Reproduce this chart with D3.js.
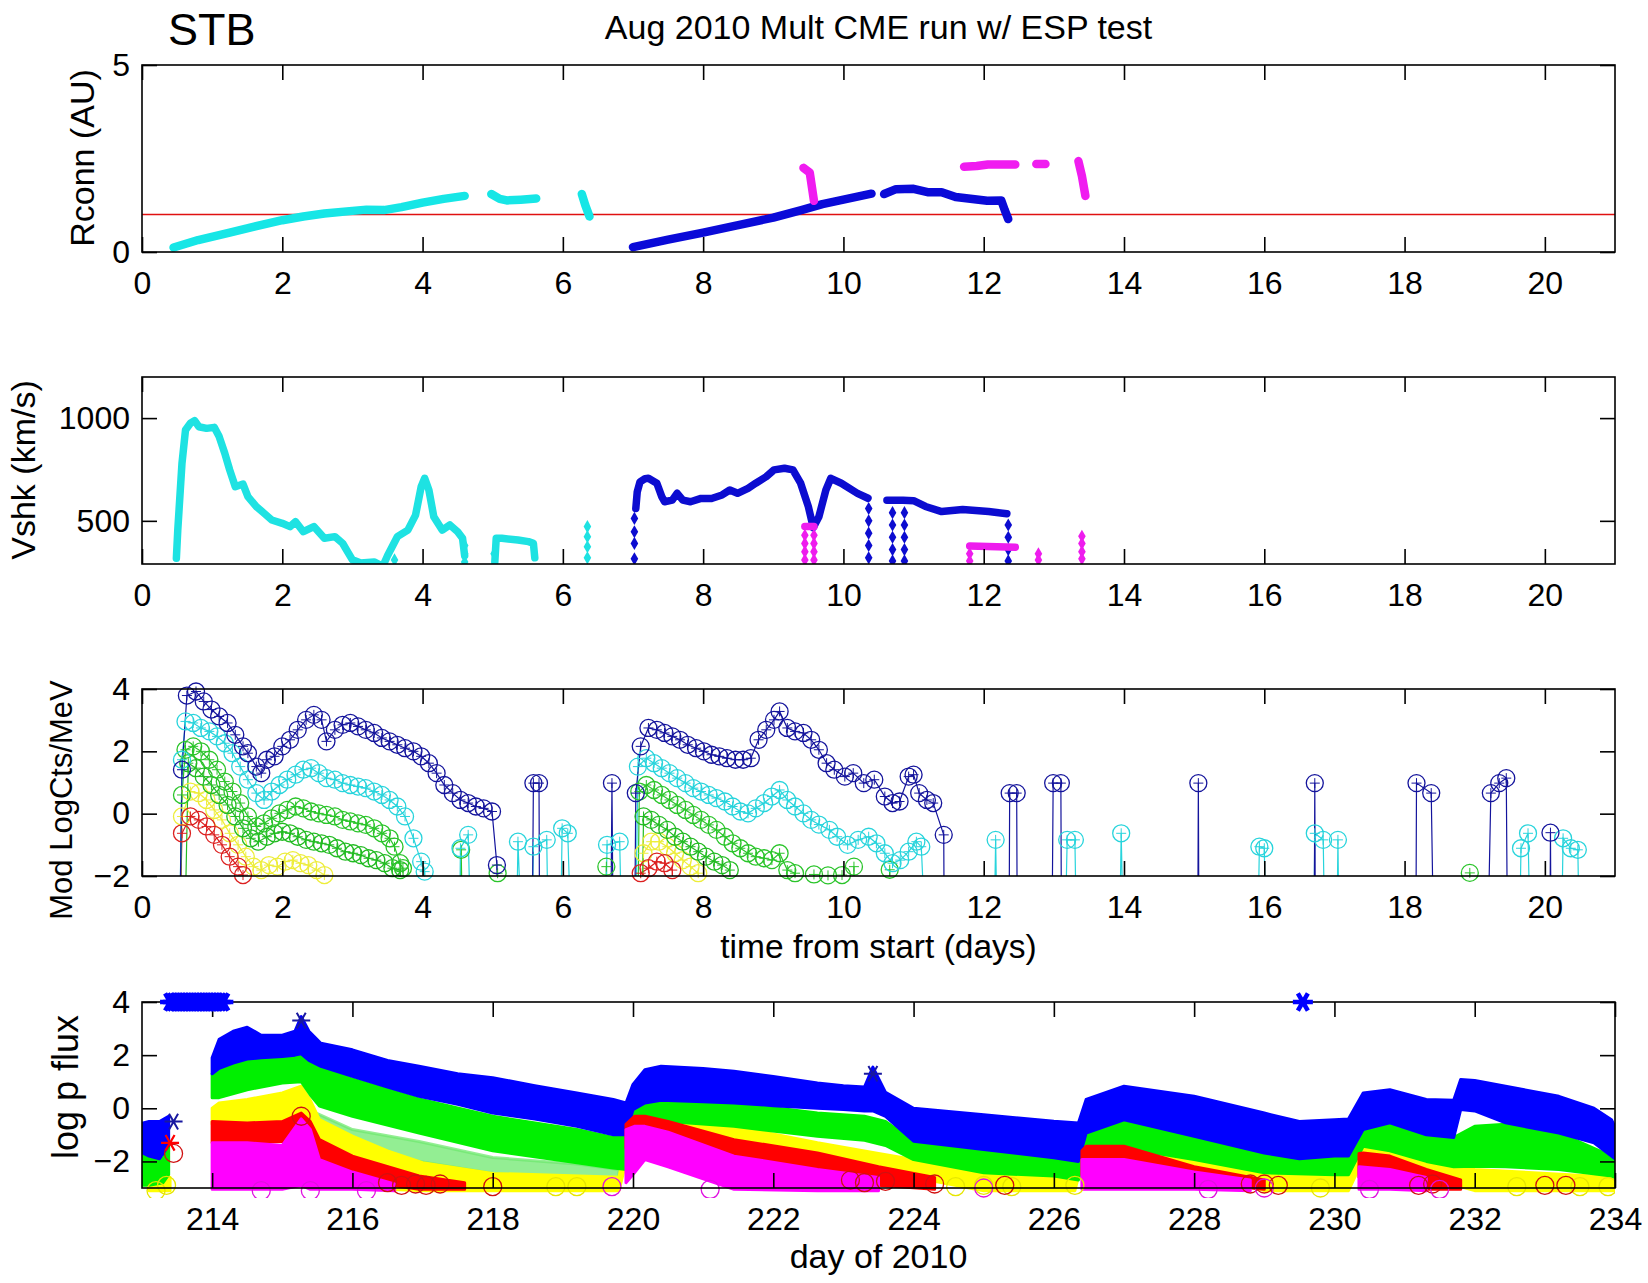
<!DOCTYPE html>
<html>
<head>
<meta charset="utf-8">
<script src="https://cdn.jsdelivr.net/npm/d3@7"></script>
<style>
  body { margin: 0; background: #fff; }
  svg { display: block; font-family: "Liberation Sans", Arial, sans-serif; }
  .tick text { font-size: 32px; fill: #000; font-family: "Liberation Sans", Arial, sans-serif; }
  .tick line { stroke: #000; stroke-width: 1.6; }
</style>
</head>
<body>
<svg id="chart" width="1648" height="1283"></svg>
<script>
// ---- panel 1 : Rconn (AU) vs days from start, segments of [day, AU]
var rconnCyan = [
  [[0.45,0.12],[0.8,0.32],[1.25,0.52],[1.6,0.68],[2.0,0.85],[2.3,0.95],[2.6,1.03],[3.0,1.1],[3.2,1.13],[3.45,1.12],[3.7,1.2],[4.0,1.32],[4.3,1.42],[4.6,1.5]],
  [[4.98,1.55],[5.1,1.42],[5.2,1.38],[5.4,1.4],[5.62,1.43]],
  [[6.27,1.55],[6.32,1.25],[6.38,0.95]]
];
var rconnBlue = [
  [[7.0,0.13],[7.5,0.33],[8.0,0.52],[8.5,0.72],[9.0,0.92],[9.4,1.12],[9.7,1.28],[10.0,1.4],[10.4,1.56]],
  [[10.58,1.55],[10.75,1.68],[11.0,1.69],[11.2,1.6],[11.4,1.6],[11.6,1.47],[12.05,1.37],[12.25,1.38],[12.3,1.12],[12.35,0.88]]
];
var rconnMagenta = [
  [[9.43,2.25],[9.52,2.12],[9.58,1.37]],
  [[11.72,2.28],[11.9,2.3],[12.06,2.34],[12.45,2.34]],
  [[12.75,2.35],[12.88,2.35]],
  [[13.35,2.43],[13.4,2.03],[13.45,1.5]]
];
var rconnRef = 1;

// ---- panel 2 : Vshk (km/s)
var vshkCyan = [
  [[0.49,318],[0.51,455],[0.57,780],[0.62,942],[0.69,975],[0.75,988],[0.81,958],[0.92,950],[1.03,955],[1.10,910],[1.18,829],[1.25,748],[1.33,666],[1.44,679],[1.51,618],[1.63,569],[1.74,537],[1.85,504],[2.0,488],[2.11,472],[2.19,496],[2.30,447],[2.45,472],[2.60,415],[2.75,423],[2.86,391],[2.93,350],[3.0,310],[3.12,295],[3.31,300],[3.4,285]],
  [[3.46,300],[3.5,330],[3.64,423],[3.79,455],[3.90,528],[3.98,666],[4.03,707],[4.09,650],[4.16,520],[4.28,455],[4.39,480],[4.5,447],[4.57,415],[4.6,330]],
  [[5.03,300],[5.05,415],[5.13,415],[5.36,407],[5.51,399],[5.58,391],[5.6,320]]
];
var vshkCyanDots = [[3.6,310],[4.6,380],[4.6,340],[4.6,300],[5.02,340],[6.35,472],[6.35,423],[6.35,374],[6.35,320]];
var vshkBlue = [
  [[7.04,560],[7.06,640],[7.1,690],[7.17,705],[7.22,707],[7.34,683],[7.41,618],[7.45,593],[7.56,601],[7.63,634],[7.71,601],[7.82,593],[7.97,609],[8.12,609],[8.27,626],[8.38,650],[8.49,634],[8.64,658],[8.75,683],[8.90,715],[9.01,748],[9.16,756],[9.28,748],[9.39,683],[9.5,569],[9.57,467],[9.65,520],[9.75,650],[9.82,707],[9.97,683],[10.2,634],[10.35,610]],
  [[10.62,600],[10.85,600],[11.0,598],[11.17,570],[11.4,545],[11.7,555],[12.07,545],[12.33,535]]
];
var vshkBlueDots = [[7.02,512],[7.02,447],[7.02,390],[7.02,315],[10.36,560],[10.36,500],[10.36,440],[10.36,380],[10.36,320],
  [10.7,540],[10.7,480],[10.7,420],[10.7,360],[10.7,305],[10.87,540],[10.87,480],[10.87,420],[10.87,360],[10.87,305],
  [12.35,480],[12.35,420],[12.35,360],[12.35,305]];
var vshkMagenta = [
  [[9.45,472],[9.58,472]],
  [[11.8,378],[12.45,372]]
];
var vshkMagentaDots = [[9.45,430],[9.45,390],[9.45,350],[9.45,310],[9.58,430],[9.58,390],[9.58,350],[9.58,310],
  [11.8,340],[11.8,305],[12.78,340],[12.78,310],[13.4,425],[13.4,390],[13.4,350],[13.4,315]];

// ---- panel 3 : Mod LogCts/MeV, -5 = below the axis
var modNavy = [[0.53,-5],[0.57,1.41],[0.64,3.79],[0.77,3.92],[0.88,3.6],[0.99,3.34],[1.1,3.12],[1.22,2.91],[1.33,2.53],[1.44,2.16],[1.51,1.94],[1.63,1.51],[1.70,1.30],[1.78,1.73],[1.89,1.84],[2.0,2.16],[2.11,2.37],[2.22,2.69],[2.34,3.01],[2.45,3.17],[2.56,3.01],[2.63,2.32],[2.75,2.69],[2.86,2.85],[2.97,2.91],[3.08,2.8],[3.19,2.69],[3.31,2.59],[3.42,2.43],[3.53,2.32],[3.64,2.21],[3.75,2.10],[3.87,2.0],[3.98,1.84],[4.09,1.62],[4.2,1.3],[4.31,0.92],[4.43,0.66],[4.54,0.44],[4.65,0.34],[4.76,0.23],[4.87,0.17],[4.99,0.07],[5.06,-1.65],[5.08,-5],
  [5.56,-5],[5.58,0.98],[5.66,0.98],[5.67,-5],
  [6.68,-5],[6.7,0.98],[6.72,-5],
  [7.02,-5],[7.04,0.66],[7.11,2.16],[7.22,2.75],[7.34,2.69],[7.45,2.59],[7.56,2.48],[7.67,2.37],[7.78,2.21],[7.90,2.10],[8.01,2.0],[8.12,1.89],[8.23,1.84],[8.34,1.78],[8.46,1.73],[8.57,1.73],[8.68,1.78],[8.79,2.37],[8.90,2.69],[9.01,3.01],[9.09,3.28],[9.2,2.75],[9.31,2.64],[9.43,2.59],[9.54,2.37],[9.65,2.05],[9.76,1.62],[9.87,1.41],[10.02,1.19],[10.14,1.3],[10.29,0.98],[10.44,1.09],[10.59,0.55],[10.7,0.34],[10.8,0.39],[10.93,1.19],[11.0,1.25],[11.08,0.66],[11.19,0.44],[11.28,0.34],[11.43,-0.68],[11.44,-5],
  [12.36,-5],[12.37,0.66],[12.47,0.66],[12.48,-5],
  [12.97,-5],[12.99,0.98],[13.1,0.98],[13.11,-5],
  [15.05,-5],[15.06,0.98],[15.07,-5],
  [16.71,-5],[16.72,0.98],[16.73,-5],
  [18.16,-5],[18.17,0.98],[18.38,0.66],[18.42,-5],
  [19.18,-5],[19.23,0.66],[19.35,0.98],[19.45,1.14],[19.47,-5],
  [20.07,-5],[20.08,-0.61],[20.09,-5]];
var modCyan = [[0.53,-5],[0.57,1.73],[0.62,2.96],[0.73,2.91],[0.84,2.75],[0.96,2.64],[1.07,2.48],[1.18,2.26],[1.29,1.94],[1.40,1.51],[1.51,1.09],[1.63,0.66],[1.74,0.44],[1.85,0.71],[1.96,0.92],[2.07,1.09],[2.19,1.25],[2.30,1.41],[2.41,1.46],[2.52,1.30],[2.63,1.14],[2.75,1.09],[2.86,0.98],[2.97,0.92],[3.08,0.87],[3.19,0.82],[3.31,0.71],[3.42,0.60],[3.53,0.44],[3.64,0.23],[3.75,-0.09],[3.87,-0.79],[3.98,-1.54],[4.03,-1.86],[4.05,-5],
  [4.52,-5],[4.54,-1.11],[4.65,-0.68],[4.7,-5],
  [5.33,-5],[5.36,-0.9],[5.43,-5],[5.55,-5],[5.58,-1.06],[5.77,-0.84],[5.8,-5],[5.96,-5],[5.99,-0.47],[6.07,-0.63],[6.13,-5],
  [6.6,-5],[6.63,-1.0],[6.81,-0.9],[6.85,-5],
  [7.03,-5],[7.07,1.51],[7.19,1.78],[7.3,1.62],[7.41,1.46],[7.52,1.30],[7.63,1.14],[7.75,0.98],[7.86,0.82],[7.97,0.71],[8.08,0.60],[8.19,0.50],[8.31,0.39],[8.42,0.23],[8.53,0.07],[8.64,0.01],[8.75,0.17],[8.87,0.34],[8.98,0.55],[9.09,0.76],[9.2,0.44],[9.31,0.23],[9.43,0.01],[9.54,-0.2],[9.65,-0.35],[9.8,-0.52],[9.91,-0.74],[10.06,-1.0],[10.21,-0.84],[10.36,-0.74],[10.47,-0.95],[10.59,-1.27],[10.7,-1.59],[10.81,-1.49],[10.93,-1.22],[11.04,-0.9],[11.11,-1.06],[11.19,-5],
  [12.14,-5],[12.17,-0.84],[12.2,-5],
  [13.15,-5],[13.19,-0.84],[13.3,-0.84],[13.33,-5],
  [13.93,-5],[13.96,-0.63],[14.0,-5],
  [15.9,-5],[15.93,-1.06],[16.0,-1.11],[16.03,-5],
  [16.7,-5],[16.72,-0.63],[16.84,-0.84],[16.87,-5],
  [17.03,-5],[17.05,-0.84],[17.07,-5],
  [19.63,-5],[19.66,-1.11],[19.76,-0.63],[19.8,-5],
  [20.23,-5],[20.26,-0.79],[20.37,-1.11],[20.47,-1.16],[20.5,-5]];
var modGreenA = [[0.53,-5],[0.57,0.6],[0.62,2.05],[0.73,2.16],[0.84,2.0],[0.96,1.73],[1.07,1.41],[1.18,1.03],[1.29,0.71],[1.40,0.34],[1.51,-0.09],[1.63,-0.41],[1.74,-0.31],[1.85,-0.15],[1.96,0.01],[2.07,0.12],[2.19,0.23],[2.30,0.17],[2.41,0.07],[2.52,0.01],[2.63,-0.04],[2.75,-0.09],[2.86,-0.2],[2.97,-0.25],[3.08,-0.31],[3.19,-0.36],[3.31,-0.47],[3.42,-0.63],[3.53,-0.79],[3.6,-1.06],[3.68,-1.59],[3.72,-1.75],[3.75,-5],
  [4.52,-5],[4.55,-1.16],[4.58,-5],
  [5.05,-5],[5.07,-1.91],[5.09,-5],
  [6.6,-5],[6.62,-1.7],[6.65,-5],
  [7.06,-5],[7.09,0.71],[7.19,0.92],[7.3,0.76],[7.41,0.6],[7.52,0.44],[7.63,0.28],[7.75,0.12],[7.86,-0.04],[7.97,-0.2],[8.08,-0.36],[8.19,-0.52],[8.31,-0.74],[8.42,-0.95],[8.53,-1.11],[8.64,-1.27],[8.75,-1.38],[8.87,-1.43],[8.98,-1.49],[9.09,-1.27],[9.2,-1.81],[9.31,-1.91],[9.33,-5],
  [9.56,-5],[9.58,-1.95],[9.6,-5],[9.76,-5],[9.78,-1.98],[9.8,-5],[9.96,-5],[9.98,-1.97],[10.0,-5],
  [10.13,-5],[10.15,-1.7],[10.17,-5],[10.64,-5],[10.66,-1.8],[10.68,-5],[18.91,-5],[18.93,-1.9],[18.95,-5]];
var modGreenB = [[0.6,-5],[0.66,1.62],[0.77,1.46],[0.88,1.19],[0.99,0.92],[1.10,0.6],[1.22,0.28],[1.33,-0.09],[1.44,-0.47],[1.55,-0.79],[1.66,-0.9],[1.78,-0.74],[1.89,-0.63],[2.0,-0.58],[2.11,-0.63],[2.22,-0.74],[2.34,-0.84],[2.45,-0.9],[2.56,-0.95],[2.67,-1.0],[2.78,-1.11],[2.90,-1.22],[3.01,-1.27],[3.12,-1.33],[3.23,-1.43],[3.34,-1.49],[3.46,-1.59],[3.57,-1.75],[3.68,-1.81],[3.72,-5],
  [7.12,-5],[7.15,-0.09],[7.26,-0.2],[7.37,-0.36],[7.49,-0.52],[7.6,-0.74],[7.71,-0.9],[7.82,-1.06],[7.93,-1.22],[8.04,-1.38],[8.16,-1.54],[8.27,-1.65],[8.38,-1.81],[8.45,-5]];
var modYellow = [[0.53,-5],[0.57,-0.09],[0.69,0.71],[0.81,0.66],[0.92,0.44],[1.03,0.12],[1.14,-0.2],[1.25,-0.63],[1.37,-1.0],[1.48,-1.38],[1.59,-1.7],[1.70,-1.81],[1.81,-1.65],[1.93,-1.7],[2.04,-1.54],[2.15,-1.49],[2.26,-1.59],[2.37,-1.65],[2.49,-1.81],[2.6,-1.97],[2.65,-5],
  [7.12,-5],[7.15,-1.27],[7.26,-0.9],[7.37,-0.9],[7.49,-1.06],[7.6,-1.27],[7.71,-1.49],[7.82,-1.7],[7.93,-1.91],[7.98,-5]];
var modRed = [[0.53,-5],[0.57,-0.63],[0.69,-0.09],[0.81,-0.2],[0.92,-0.41],[1.03,-0.68],[1.14,-1.0],[1.25,-1.38],[1.37,-1.7],[1.44,-1.97],[1.47,-5],
  [7.08,-5],[7.11,-1.91],[7.22,-1.75],[7.34,-1.54],[7.45,-1.59],[7.56,-1.81],[7.6,-5]];

// ---- panel 4 : log p flux bands, [day of 2010, top, bottom]
var fluxBlue = [
  [[212.95,-0.6,-1.6],[213.1,-0.5,-1.8],[213.25,-0.5,-1.9],[213.38,-0.3,-1.4]],
  [[214.0,1.9,1.3],[214.1,2.6,1.5],[214.3,2.9,1.7],[214.5,3.05,1.85],[214.7,2.75,1.9],[215.0,2.75,1.95],[215.18,2.9,2.0],[215.27,3.45,2.05],[215.38,2.9,1.8],[215.55,2.45,1.58],[216.0,2.2,1.2],[216.5,1.8,0.8],[216.95,1.58,0.45],[217.5,1.3,0.15],[218.0,1.15,-0.18],[218.6,0.85,-0.4],[219.2,0.58,-0.68],[219.72,0.33,-1.0],[219.9,0.2,-1.0],[220.0,0.9,-0.05],[220.17,1.45,0.2],[220.4,1.58,0.3],[221.0,1.5,0.25],[221.44,1.39,0.2],[222.0,1.2,0.1],[222.63,0.95,0.0],[223.0,0.85,-0.05],[223.3,0.8,-0.1],[223.42,1.55,-0.1],[223.6,0.6,-0.3],[224.0,0.0,-1.24],[225.0,-0.24,-1.55],[226.0,-0.49,-1.86],[226.35,-0.55,-2.0],[226.46,0.33,-0.93],[227.0,0.83,-0.43],[228.0,0.45,-1.05],[229.0,-0.18,-1.68],[229.5,-0.5,-1.9],[230.0,-0.43,-1.8],[230.2,-0.4,-1.8],[230.41,0.58,-0.8],[230.79,0.7,-0.55],[231.31,0.33,-1.0],[231.7,0.3,-1.1],[231.8,1.08,-0.05],[232.0,1.05,-0.1],[232.44,0.83,-0.55],[233.2,0.45,-0.93],[233.7,0.0,-1.3],[233.95,-0.43,-1.8],[234.0,-0.7,-1.9]]
];
var fluxGreen = [
  [[212.95,-1.6,-2.9],[213.1,-1.8,-2.9],[213.3,-1.9,-2.8],[213.38,-1.4,-2.5]],
  [[214.0,1.3,0.4],[214.1,1.5,0.4],[214.5,1.85,0.7],[215.0,1.95,0.95],[215.27,2.05,1.0],[215.4,1.8,0.5],[215.53,1.58,0.08],[216.0,1.1,-0.3],[216.95,0.35,-0.93],[218.0,-0.3,-1.6],[219.2,-0.8,-2.05],[219.72,-1.1,-2.25],[219.9,-1.1,-2.3],[220.0,-0.05,-0.68],[220.17,0.58,-0.4],[220.5,0.5,-0.5],[221.44,0.2,-0.68],[222.63,-0.18,-1.05],[223.3,-0.3,-1.2],[223.6,-0.5,-1.4],[224.0,-1.24,-1.93],[225.0,-1.55,-2.43],[226.0,-1.8,-2.55],[226.35,-2.0,-2.7],[226.46,-0.93,-1.6],[227.0,-0.3,-1.5],[228.0,-1.05,-1.93],[229.0,-1.68,-2.43],[230.0,-1.8,-2.5],[230.2,-1.8,-2.5],[230.41,-0.8,-1.43],[230.79,-0.55,-1.6],[231.31,-1.0,-2.0],[231.7,-1.1,-2.2],[232.0,-0.68,-2.18],[232.44,-0.6,-2.2],[233.2,-0.93,-2.3],[233.95,-1.8,-2.55],[234.0,-1.9,-2.6]]
];
var fluxGreenLow = [
  [[215.5,-0.2,-1.0],[216.0,-0.8,-1.6],[216.95,-1.25,-2.0],[218.0,-1.85,-2.45],[219.2,-2.1,-2.7],[219.8,-2.3,-2.8]]
];
var fluxYellow = [
  [[213.1,-2.6,-3.1],[213.4,-2.6,-3.1]],
  [[214.0,0.0,-0.6],[214.1,0.2,-0.6],[214.5,0.33,-0.55],[215.0,0.58,-0.43],[215.27,0.83,-0.2],[215.4,0.3,-0.6],[215.53,-0.43,-1.3],[216.0,-1.05,-2.0],[216.5,-1.6,-3.05],[217.0,-2.05,-3.1],[218.0,-2.45,-3.1],[219.8,-2.6,-3.1],[219.95,-0.5,-1.5],[220.02,-0.1,-1.3],[220.17,0.1,-1.0],[220.5,0.0,-1.0],[221.44,-0.68,-1.43],[222.63,-1.3,-2.0],[223.5,-1.7,-2.5],[224.0,-1.93,-2.6],[225.0,-2.43,-3.1],[226.3,-2.55,-3.1],[226.46,-0.93,-1.43],[227.0,-1.0,-1.8],[228.0,-1.93,-2.4],[229.0,-2.43,-3.1],[230.2,-2.5,-3.1],[230.41,-1.3,-1.93],[230.79,-1.5,-2.2],[231.31,-2.0,-2.6],[232.0,-2.3,-3.1],[234.0,-2.6,-3.1]]
];
var fluxRed = [
  [[214.0,-0.5,-1.3],[214.5,-0.55,-1.3],[215.0,-0.5,-1.25],[215.27,-0.18,-1.1],[215.4,-0.5,-1.3],[215.53,-1.18,-2.18],[216.0,-1.8,-2.68],[216.95,-2.55,-3.05],[217.6,-2.8,-3.05]],
  [[219.9,-0.6,-1.5],[220.02,-0.3,-1.18],[220.17,-0.3,-1.05],[220.5,-0.5,-1.2],[221.44,-1.18,-1.93],[222.63,-1.68,-2.43],[223.5,-2.2,-2.9],[224.3,-2.6,-3.05]],
  [[226.4,-1.6,-2.5],[226.46,-1.43,-2.43],[227.0,-1.43,-2.43],[228.0,-2.2,-2.8],[229.0,-2.7,-3.05]],
  [[230.35,-1.7,-2.6],[230.41,-1.68,-2.55],[230.79,-1.8,-2.55],[231.31,-2.3,-3.05],[231.8,-2.7,-3.05]]
];
var fluxMagenta = [
  [[214.0,-1.3,-3.05],[214.5,-1.3,-3.05],[215.0,-1.4,-3.05],[215.27,-0.4,-2.9],[215.4,-0.8,-3.05],[215.53,-1.93,-3.05],[216.0,-2.4,-3.05],[216.6,-2.85,-3.1]],
  [[219.9,-0.8,-2.8],[220.02,-0.68,-2.43],[220.17,-0.68,-1.93],[220.5,-0.9,-2.2],[221.44,-1.8,-3.05],[222.63,-2.3,-3.1],[223.5,-2.6,-3.1]],
  [[226.4,-1.93,-3.05],[227.0,-1.93,-3.05],[228.0,-2.4,-3.05],[228.8,-2.7,-3.1]],
  [[230.35,-2.2,-3.05],[230.79,-2.3,-3.05],[231.31,-2.6,-3.1]]
];
var topStarDays = [213.4,213.44,213.48,213.52,213.56,213.6,213.64,213.68,213.72,213.76,213.8,213.84,213.88,213.92,213.96,214.0,214.04,214.08,214.12,214.16,229.55];
var topStarValue = 4;
var navyStars = [[213.45,-0.5],[215.27,3.3],[223.42,1.3]];
var redStars = [[213.4,-1.3]];
var redRings = [[213.45,-1.7],[215.27,-0.3],[216.5,-2.8],[216.7,-2.9],[216.9,-2.85],[217.05,-2.9],[217.25,-2.85],[218.0,-2.95],[223.1,-2.7],[223.3,-2.8],[223.6,-2.75],[224.3,-2.85],[225.3,-2.9],[228.8,-2.85],[229.0,-2.85],[229.2,-2.9],[231.2,-2.9],[231.4,-2.85],[233.0,-2.9],[233.3,-2.9]];
var magentaRings = [[214.7,-3.1],[215.4,-3.1],[216.2,-3.1],[219.7,-2.95],[221.1,-3.05],[225.0,-3.0],[228.2,-3.05],[229.0,-3.0],[230.5,-3.05],[231.5,-3.05]];
var yellowRings = [[213.2,-3.1],[213.35,-2.9],[218.9,-2.95],[219.2,-2.95],[224.6,-2.95],[225.0,-2.9],[225.4,-2.95],[226.3,-2.9],[229.8,-3.0],[232.6,-2.95],[233.5,-2.95],[233.9,-2.95]];

var dayTicks = d3.range(0, 21, 2);
var doyTicks = d3.range(214, 235, 2);

// ---- layout
var L = 142, R = 1615;
var boxes = [{top: 65, bottom: 252}, {top: 377, bottom: 564}, {top: 689, bottom: 876}, {top: 1002, bottom: 1188}];
var svg = d3.select("#chart");
var defs = svg.append("defs");

var xDay = d3.scaleLinear().domain([0, 21]).range([L, R]);
var xDoy = d3.scaleLinear().domain([213, 234]).range([L, R]);
var yR = d3.scaleLinear().domain([0, 5]).range([boxes[0].bottom, boxes[0].top]);
var yV = d3.scaleLinear().domain([290, 1200]).range([boxes[1].bottom, boxes[1].top]);
var yM = d3.scaleLinear().domain([-2, 4]).range([boxes[2].bottom, boxes[2].top]);
var yF = d3.scaleLinear().domain([-3, 4]).range([boxes[3].bottom, boxes[3].top]);

boxes.forEach(function(b, i) {
  defs.append("clipPath").attr("id", "clip" + i).append("rect")
    .attr("x", L).attr("y", b.top).attr("width", R - L).attr("height", b.bottom - b.top + (i == 3 ? 10 : 0));
});

function frame(b, x, y, xticks, yticks) {
  var g = svg.append("g");
  g.append("g").attr("transform", "translate(0," + b.bottom + ")")
    .call(d3.axisBottom(x).tickValues(xticks).tickSize(-15).tickPadding(19).tickFormat(d3.format("d")))
    .call(function(a) { a.select(".domain").remove(); });
  g.append("g").attr("transform", "translate(0," + b.top + ")")
    .call(d3.axisTop(x).tickValues(xticks).tickSize(-15).tickFormat(""))
    .call(function(a) { a.select(".domain").remove(); });
  g.append("g").attr("transform", "translate(" + L + ",0)")
    .call(d3.axisLeft(y).tickValues(yticks).tickSize(-15).tickPadding(12).tickFormat(d3.format("d")))
    .call(function(a) { a.select(".domain").remove(); });
  g.append("g").attr("transform", "translate(" + R + ",0)")
    .call(d3.axisRight(y).tickValues(yticks).tickSize(-15).tickFormat(""))
    .call(function(a) { a.select(".domain").remove(); });
  g.append("rect").attr("x", L).attr("y", b.top).attr("width", R - L).attr("height", b.bottom - b.top)
    .attr("fill", "none").attr("stroke", "#000").attr("stroke-width", 1.6);
}

function ylabel(text, cx, cy, size) {
  svg.append("text").attr("transform", "translate(" + cx + "," + cy + ") rotate(-90)")
    .attr("text-anchor", "middle").attr("dy", "0.36em")
    .style("font-size", size + "px").text(text);
}

// ---- titles
svg.append("text").attr("x", 168).attr("y", 45).style("font-size", "45px").text("STB");
svg.append("text").attr("x", (L + R) / 2).attr("y", 39).attr("text-anchor", "middle")
  .style("font-size", "34px").text("Aug 2010 Mult CME run w/ ESP test");

// ---- panel 1
var g1 = svg.append("g").attr("clip-path", "url(#clip0)");
g1.append("line").attr("x1", xDay(0)).attr("x2", xDay(21)).attr("y1", yR(rconnRef)).attr("y2", yR(rconnRef))
  .attr("stroke", "#e01010").attr("stroke-width", 1.5);
var line1 = d3.line().x(function(d) { return xDay(d[0]); }).y(function(d) { return yR(d[1]); });
[[rconnCyan, "#16e6e6"], [rconnBlue, "#0a0ad8"], [rconnMagenta, "#f01cf0"]].forEach(function(s) {
  g1.selectAll(null).data(s[0]).enter().append("path")
    .attr("d", line1).attr("fill", "none").attr("stroke", s[1])
    .attr("stroke-width", 8.5).attr("stroke-linecap", "round").attr("stroke-linejoin", "round");
});
frame(boxes[0], xDay, yR, dayTicks, [0, 5]);
ylabel("Rconn (AU)", 82, 158, 34);

// ---- panel 2
var g2 = svg.append("g").attr("clip-path", "url(#clip1)");
var line2 = d3.line().x(function(d) { return xDay(d[0]); }).y(function(d) { return yV(d[1]); });
var diamond = d3.symbol().type(d3.symbolDiamond).size(50);
[[vshkCyan, vshkCyanDots, "#1ee2e2"], [vshkBlue, vshkBlueDots, "#0c0cd0"], [vshkMagenta, vshkMagentaDots, "#ee1cee"]].forEach(function(s) {
  g2.selectAll(null).data(s[0]).enter().append("path")
    .attr("d", line2).attr("fill", "none").attr("stroke", s[2])
    .attr("stroke-width", 7.5).attr("stroke-linecap", "round").attr("stroke-linejoin", "round");
  g2.selectAll(null).data(s[1]).enter().append("path")
    .attr("d", diamond).attr("fill", s[2])
    .attr("transform", function(d) { return "translate(" + xDay(d[0]) + "," + yV(d[1]) + ")"; });
});
frame(boxes[1], xDay, yV, dayTicks, [500, 1000]);
ylabel("Vshk (km/s)", 23, 470, 34);

// ---- panel 3
var g3 = svg.append("g");
var g3c = g3.append("g").attr("clip-path", "url(#clip2)");
var line3 = d3.line().x(function(d) { return xDay(d[0]); }).y(function(d) { return yM(d[1]); });
[[modYellow, "#eded3a"], [modRed, "#dc2020"], [modGreenB, "#22bb22"], [modGreenA, "#2ac42a"], [modCyan, "#28d4dc"], [modNavy, "#14149c"]].forEach(function(s) {
  g3c.append("path").datum(s[0]).attr("d", line3).attr("fill", "none")
    .attr("stroke", s[1]).attr("stroke-width", 1.2);
  var pts = s[0].filter(function(d) { return d[1] >= -2.1; });
  var m = g3.selectAll(null).data(pts).enter().append("g")
    .attr("transform", function(d) { return "translate(" + xDay(d[0]) + "," + yM(d[1]) + ")"; });
  m.append("circle").attr("r", 8.5).attr("fill", "none").attr("stroke", s[1]).attr("stroke-width", 1.3);
  m.append("path").attr("d", "M-5,0H5M0,-5V5").attr("stroke", s[1]).attr("stroke-width", 1);
});
frame(boxes[2], xDay, yM, dayTicks, [-2, 0, 2, 4]);
ylabel("Mod LogCts/MeV", 61, 800, 31);
svg.append("text").attr("x", (L + R) / 2).attr("y", 958).attr("text-anchor", "middle")
  .style("font-size", "33.5px").text("time from start (days)");

// ---- panel 4
var g4 = svg.append("g").attr("clip-path", "url(#clip3)");
var area4 = d3.area().x(function(d) { return xDoy(d[0]); })
  .y0(function(d) { return yF(d[2]); }).y1(function(d) { return yF(d[1]); });
[[fluxGreenLow, "#6fe86f", 0.75], [fluxYellow, "#ffff00", 1], [fluxGreen, "#00f000", 1], [fluxBlue, "#0000ff", 1], [fluxRed, "#ff0000", 1], [fluxMagenta, "#ff00ff", 1]].forEach(function(s) {
  g4.selectAll(null).data(s[0]).enter().append("path")
    .attr("d", area4).attr("fill", s[1]).attr("fill-opacity", s[2])
    .attr("stroke", s[1]).attr("stroke-opacity", s[2]).attr("stroke-width", 3).attr("stroke-linejoin", "round");
});
function rings(data, color) {
  g4.selectAll(null).data(data).enter().append("circle")
    .attr("cx", function(d) { return xDoy(d[0]); }).attr("cy", function(d) { return yF(d[1]); })
    .attr("r", 9).attr("fill", "none").attr("stroke", color).attr("stroke-width", 1.3);
}
rings(yellowRings, "#e6e600");
rings(redRings, "#d01010");
rings(magentaRings, "#e010e0");
function stars(parent, data, color, w, s) {
  var p = "M" + (-s) + ",0H" + s + "M" + (-s / 2) + "," + (-s * 0.87) + "L" + (s / 2) + "," + (s * 0.87) +
          "M" + (-s / 2) + "," + (s * 0.87) + "L" + (s / 2) + "," + (-s * 0.87);
  parent.selectAll(null).data(data).enter().append("path").attr("d", p)
    .attr("stroke", color).attr("stroke-width", w).attr("fill", "none")
    .attr("transform", function(d) { return "translate(" + xDoy(d[0]) + "," + yF(d[1]) + ")"; });
}
stars(g4, navyStars, "#1818a0", 2, 9);
stars(g4, redStars, "#ff0000", 2.2, 9);
frame(boxes[3], xDoy, yF, doyTicks, [-2, 0, 2, 4]);
stars(svg, topStarDays.map(function(d) { return [d, topStarValue]; }), "#0000ff", 4.5, 10);
ylabel("log p flux", 65, 1087, 36);
svg.append("text").attr("x", (L + R) / 2).attr("y", 1268).attr("text-anchor", "middle")
  .style("font-size", "34px").text("day of 2010");
</script>
</body>
</html>
